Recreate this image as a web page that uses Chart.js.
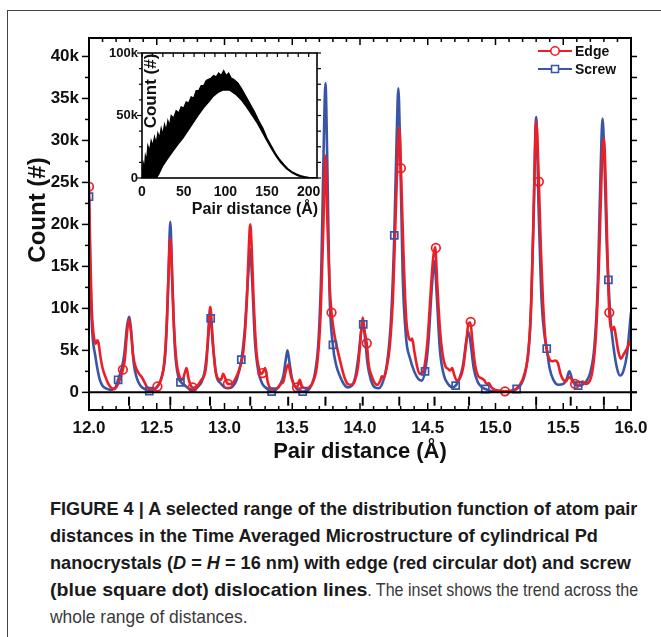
<!DOCTYPE html>
<html>
<head>
<meta charset="utf-8">
<script src="https://cdn.jsdelivr.net/npm/chart.js@4.4.1/dist/chart.umd.min.js"></script>
<style>
  body { margin: 0; background: #fff; width: 661px; height: 637px; overflow: hidden; position: relative; }
  #frame { position: absolute; left: 7px; top: 10px; width: 670px; height: 640px;
           border-top: 1.5px solid #444; border-left: 1.5px solid #444; }
  #main { position: absolute; left: 0; top: 0; }
  #inset { position: absolute; left: 100px; top: 40px; }
  .cap { position: absolute; left: 50px; white-space: nowrap; transform: scaleX(0.955); transform-origin: 0 0;
         font: bold 19px/27px 'Liberation Sans', Arial, sans-serif; color: #1a1a1a; }
  .cap .reg { display: inline-block; font-weight: normal; color: #3a3a3a; transform-origin: 0 0; }
</style>
</head>
<body>
<div id="frame"></div>
<canvas id="main" width="661" height="470"></canvas>
<canvas id="inset" width="230" height="185"></canvas>
<div class="cap" style="top:495px">FIGURE 4 | A selected range of the distribution function of atom pair</div>
<div class="cap" style="top:522px">distances in the Time Averaged Microstructure of cylindrical Pd</div>
<div class="cap" style="top:549px">nanocrystals (<i>D</i> = <i>H</i> = 16 nm) with edge (red circular dot) and screw</div>
<div class="cap" style="top:576px;transform:scaleX(1.03)">(blue square dot) dislocation lines<span class="reg" style="transform:scaleX(0.82)">. The inset shows the trend across the</span></div>
<div class="cap" style="top:603px"><span class="reg" style="transform:scaleX(0.96)">whole range of distances.</span></div>

<script>
// pair distance (Å) and count (thousands)
const edgeX = [12.000,12.010,12.020,12.030,12.040,12.050,12.060,12.070,12.085,12.100,12.120,12.140,12.160,12.180,12.200,12.220,12.250,12.265,12.280,12.295,12.310,12.325,12.345,12.370,12.390,12.410,12.430,12.450,12.480,12.505,12.530,12.555,12.575,12.590,12.600,12.610,12.625,12.645,12.670,12.690,12.705,12.720,12.735,12.755,12.770,12.800,12.830,12.850,12.865,12.880,12.895,12.910,12.930,12.955,12.975,12.990,13.005,13.025,13.050,13.080,13.110,13.140,13.165,13.180,13.190,13.200,13.215,13.235,13.255,13.275,13.290,13.300,13.320,13.345,13.370,13.395,13.415,13.435,13.450,13.470,13.490,13.515,13.535,13.555,13.570,13.595,13.625,13.655,13.685,13.710,13.730,13.745,13.760,13.775,13.790,13.810,13.835,13.860,13.885,13.910,13.935,13.960,13.985,14.005,14.020,14.035,14.050,14.065,14.085,14.110,14.130,14.150,14.160,14.175,14.195,14.220,14.245,14.265,14.280,14.290,14.302,14.320,14.340,14.360,14.375,14.385,14.400,14.420,14.440,14.460,14.480,14.500,14.520,14.540,14.555,14.570,14.590,14.610,14.630,14.650,14.665,14.680,14.695,14.715,14.735,14.760,14.785,14.800,14.815,14.830,14.850,14.870,14.895,14.915,14.935,14.950,14.970,15.000,15.040,15.070,15.110,15.150,15.180,15.210,15.240,15.265,15.285,15.300,15.320,15.335,15.350,15.370,15.390,15.405,15.420,15.440,15.460,15.480,15.500,15.520,15.540,15.555,15.575,15.590,15.610,15.625,15.645,15.665,15.690,15.715,15.740,15.765,15.785,15.800,15.815,15.830,15.840,15.860,15.875,15.890,15.905,15.925,15.945,15.970,16.000];
const edgeY = [24.5,16,10,7.5,6.2,5.8,6.2,5.9,4.2,2.9,1.9,1.1,0.6,0.45,0.6,1.2,2.7,4.0,7.0,8.7,7.2,4.5,3.0,2.2,1.8,1.2,0.6,0.35,0.4,0.7,1.5,3.5,8.5,15.5,18.3,15.5,8.5,3.8,1.8,1.5,2.2,2.9,1.6,0.7,0.55,0.8,1.5,2.0,3.2,7.0,10.2,7.0,3.0,1.6,1.5,2.2,1.7,1.0,1.0,1.6,2.8,5.0,11,17.5,20,17.5,11,5.0,2.8,2.2,2.6,2.9,1.2,0.4,0.35,0.6,1.0,1.3,2.4,3.3,2.0,0.8,0.6,1.5,0.8,0.5,0.6,1.3,3.5,9.5,20,28.2,20,13,9.5,7.0,5.0,3.3,1.8,1.0,0.9,1.3,3.0,6.5,8.9,7.2,5.8,3.2,2.0,1.1,0.9,1.4,1.9,1.7,2.8,5.5,12,22,29,31.5,26.7,17,9.0,6.5,6.2,6.4,5.0,3.2,2.2,2.3,3.5,6.5,11.5,16,17.3,13,7.5,4.5,3.1,2.8,2.6,2.9,2.1,1.4,1.6,2.8,6.0,8.2,8.3,6.0,3.2,2.0,1.7,1.5,1.0,1.1,0.6,0.3,0.2,0.12,0.2,0.4,0.9,2.0,4.5,11,24,32.3,25.1,17,11,6.0,4.3,3.8,3.7,3.8,3.5,2.2,1.5,1.3,1.8,1.7,1.2,1.0,1.3,1.2,1.3,1.0,1.2,2.5,6.5,16,27,30.3,24,14,9.5,7.4,7.8,6.5,5.0,4.0,4.5,5.2,6.3];

const screwX = [12.000,12.010,12.020,12.030,12.045,12.060,12.080,12.100,12.130,12.160,12.190,12.215,12.240,12.260,12.280,12.295,12.310,12.330,12.355,12.380,12.410,12.445,12.480,12.510,12.540,12.565,12.585,12.600,12.615,12.635,12.660,12.680,12.710,12.740,12.770,12.800,12.830,12.855,12.875,12.895,12.915,12.940,12.970,13.000,13.030,13.060,13.090,13.125,13.150,13.175,13.190,13.205,13.225,13.250,13.280,13.310,13.345,13.380,13.410,13.435,13.455,13.465,13.480,13.500,13.530,13.575,13.610,13.640,13.670,13.695,13.715,13.733,13.745,13.758,13.775,13.800,13.825,13.850,13.880,13.910,13.940,13.965,13.990,14.010,14.022,14.035,14.055,14.080,14.110,14.140,14.170,14.200,14.230,14.253,14.270,14.283,14.295,14.315,14.340,14.370,14.400,14.430,14.455,14.480,14.505,14.530,14.550,14.565,14.590,14.620,14.650,14.685,14.706,14.730,14.760,14.785,14.800,14.815,14.840,14.870,14.900,14.925,14.960,15.000,15.060,15.120,15.156,15.190,15.225,15.255,15.280,15.300,15.318,15.340,15.360,15.378,15.400,15.430,15.465,15.500,15.525,15.545,15.565,15.590,15.610,15.640,15.670,15.700,15.730,15.755,15.775,15.790,15.805,15.820,15.833,15.850,15.870,15.895,15.920,15.945,15.970,16.000];
const screwY = [23.3,14,8.5,6.0,4.5,3.0,1.5,0.8,0.45,0.3,0.4,1.5,2.8,4.5,7.8,9.0,7.5,3.5,1.6,0.8,0.4,0.15,0.3,0.8,2.0,5.0,13,20.3,13,5.0,1.8,1.2,0.8,0.4,0.3,0.6,1.2,2.6,5.5,9.3,5.5,2.0,1.1,0.6,0.5,0.7,1.5,3.9,7.5,14,17,13,6.0,2.5,1.0,0.5,0.1,0.3,0.9,2.0,4.2,5.0,3.5,1.5,0.5,0.1,0.2,0.8,2.5,6.5,15,30,36.8,28,12,5.6,3.2,2.0,1.0,0.6,0.8,1.8,4.5,7.5,8.1,6.8,3.5,1.5,0.6,0.5,1.3,3.5,9.0,18.7,30,36.2,30,14,6.5,4.0,2.5,1.6,1.4,2.5,6.0,12.5,15.6,12,5.0,2.0,1.0,0.6,0.8,1.5,3.2,6.2,7.2,6.0,2.8,1.2,0.6,0.4,0.2,0.1,0.08,0.15,0.4,1.0,2.8,7.5,20,32.8,22,11,7.0,5.2,2.8,1.4,0.9,1.0,1.6,2.5,1.6,0.9,0.8,0.9,1.3,2.4,5.5,13,26,32.6,27,18,13.4,8.5,5.5,3.0,2.0,2.6,4.5,9.5];

const edgeMarkX = [12.0,12.25,12.505,12.765,13.025,13.28,13.535,13.79,14.05,14.302,14.56,14.817,15.07,15.32,15.587,15.84];
const edgeMarkY = [24.5,2.7,0.7,0.6,1.0,2.3,0.6,9.5,5.85,26.7,17.2,8.4,0.12,25.1,1.0,9.5];
const screwMarkX = [12.0,12.215,12.445,12.675,12.898,13.124,13.348,13.577,13.80,14.024,14.253,14.48,14.706,14.925,15.156,15.378,15.61,15.833];
const screwMarkY = [23.3,1.5,0.15,1.2,8.8,3.9,0.1,0.1,5.65,8.1,18.7,2.5,0.8,0.4,0.4,5.2,0.8,13.4];

// short vertical marks under the zero line
const shellX = [12.295,12.6,12.893,13.19,13.47,13.745,14.02,14.29,14.55,14.805,15.30,15.555,15.80];
const shellY = -1.05;

// inset: envelope of the full-range distribution (Å, thousands)
const insetUpX = [0,1.5,3,4,5.5,7,9,11,13,15,17,19,21,23,25,27,29,31,33,35,38,41,44,47,50,53,56,59,62,65,68,71,74,77,80,83,86,89,92,95,98,101,104,107,110,115,120,125,130,135,140,145,150,155,160,165,170,175,180,185,190,195,200,205,210];
const insetUp = [0,12,8,18,14,26,22,30,26,33,28,36,32,40,35,43,38,46,42,50,48,54,52,57,56,61,60,65,64,70,70,74,74,78,79,80,82,81,84,82,86,82,84,80,79,76,71,65,59,53,46,40,32,26,20,15,11,7.5,5,3.3,2,1.1,0.6,0.3,0.15];
const insetLowX = [0,17,20,25,30,37,43,49,55,61,67,73.5,80,85.5,91,97.5,105,113.5,120,125.5,131,137.5,143,149.5,155,161.5,167,173.5,180,185.5,190,195,200,205,210];
const insetLow = [0,0,3,10,15,21.5,27,32,38,44,50,56,61,65.5,68.5,70.5,70.5,66.5,62,57,51.5,45,38.5,30.5,24,17,12,7.5,4.3,2.3,1.2,0.5,0.25,0.1,0.05];

const FONT = "'Liberation Sans', Arial, sans-serif";
const RED = '#ec1f26';
const BLUE = '#3b55a5';

const pts = (xs, ys) => xs.map((x, i) => ({ x, y: ys[i] }));

function seg(ctx, x1, y1, x2, y2) {
  ctx.beginPath(); ctx.moveTo(x1, y1); ctx.lineTo(x2, y2); ctx.stroke();
}

const mainDecor = {
  id: 'mainDecor',
  afterDraw(chart) {
    const { ctx, chartArea: a, scales: { x, y } } = chart;
    ctx.save();
    ctx.strokeStyle = '#000';
    ctx.lineWidth = 2;
    ctx.strokeRect(a.left, a.top, a.right - a.left, a.bottom - a.top);
    const y0 = y.getPixelForValue(0);
    seg(ctx, a.left, y0, a.right + 6, y0);
    ctx.lineWidth = 1.5;
    for (let i = 0; i <= 40; i++) {
      const px = x.getPixelForValue(12 + i / 10);
      const len = i % 5 === 0 ? 7 : 4;
      seg(ctx, px, a.top, px, a.top + len);
      seg(ctx, px, a.bottom, px, a.bottom - len);
    }
    for (let i = 0; i <= 16; i++) {
      const py = y.getPixelForValue(i * 2.5);
      const len = i % 2 === 0 ? 7 : 4;
      seg(ctx, a.left - len, py, a.left, py);
      seg(ctx, a.right, py, a.right + 6, py);
    }
    // axis titles
    ctx.fillStyle = '#111';
    ctx.textAlign = 'center';
    ctx.textBaseline = 'middle';
    ctx.font = 'bold 22px ' + FONT;
    ctx.fillText('Pair distance (Å)', (a.left + a.right) / 2, 452);
    ctx.save();
    ctx.translate(38, 210);
    ctx.rotate(-Math.PI / 2);
    ctx.font = 'bold 24px ' + FONT;
    ctx.fillText('Count (#)', 0, 0);
    ctx.restore();
    // legend
    const items = [['Edge', RED, 'circle', 51], ['Screw', BLUE, 'rect', 69]];
    ctx.font = 'bold 14px ' + FONT;
    ctx.textAlign = 'left';
    items.forEach(([label, color, shape, ly]) => {
      ctx.strokeStyle = color;
      ctx.lineWidth = 2;
      seg(ctx, 538, ly, 572, ly);
      ctx.lineWidth = 1.6;
      ctx.fillStyle = '#fff';
      ctx.beginPath();
      if (shape === 'circle') ctx.arc(555, ly, 4.2, 0, Math.PI * 2);
      else ctx.rect(551.5, ly - 3.5, 7, 7);
      ctx.fill(); ctx.stroke();
      ctx.fillStyle = '#111';
      ctx.fillText(label, 575, ly + 1);
    });
    ctx.restore();
  }
};

new Chart(document.getElementById('main'), {
  type: 'scatter',
  data: {
    datasets: [
      { label: 'Edge marks', data: pts(edgeMarkX, edgeMarkY), pointStyle: 'circle', pointRadius: 4.3,
        borderColor: RED, backgroundColor: 'rgba(0,0,0,0)', borderWidth: 1.7 },
      { label: 'Screw marks', data: pts(screwMarkX, screwMarkY), pointStyle: 'rect', pointRadius: 5,
        borderColor: BLUE, backgroundColor: 'rgba(0,0,0,0)', borderWidth: 1.7 },
      { label: 'Edge', data: pts(edgeX, edgeY), showLine: true, pointRadius: 0,
        borderColor: RED, borderWidth: 2.6, cubicInterpolationMode: 'monotone' },
      { label: 'Screw', data: pts(screwX, screwY), showLine: true, pointRadius: 0,
        borderColor: BLUE, borderWidth: 2.6, cubicInterpolationMode: 'monotone' },
      { label: 'Shells', data: shellX.map(x => ({ x, y: shellY })), pointStyle: 'line', rotation: 90,
        pointRadius: 4.5, borderColor: '#000', borderWidth: 2 }
    ]
  },
  options: {
    responsive: false,
    animation: false,
    events: [],
    layout: { padding: { left: 0, top: 38, right: 30, bottom: 0 } },
    plugins: { legend: { display: false }, tooltip: { enabled: false } },
    scales: {
      x: {
        type: 'linear', min: 12, max: 16,
        grid: { display: false, drawTicks: false }, border: { display: false },
        ticks: { stepSize: 0.5, padding: 8, color: '#111', font: { family: FONT, size: 17, weight: 'bold' },
                 callback: v => v.toFixed(1) },
        afterFit: s => { s.height = 60; }
      },
      y: {
        min: -2.1, max: 42.2,
        grid: { display: false, drawTicks: false }, border: { display: false },
        ticks: { stepSize: 5, includeBounds: false, padding: 10, color: '#111',
                 font: { family: FONT, size: 17, weight: 'bold' },
                 callback: v => (v < 0 || v > 40) ? '' : (v === 0 ? '0' : v + 'k') },
        afterFit: s => { s.width = 89; }
      }
    }
  },
  plugins: [mainDecor]
});

const insetDecor = {
  id: 'insetDecor',
  beforeDraw(chart) {
    const { ctx, chartArea: a } = chart;
    ctx.save();
    ctx.fillStyle = '#fff';
    ctx.fillRect(a.left, a.top, a.right - a.left, a.bottom - a.top);
    ctx.restore();
  },
  afterDraw(chart) {
    const { ctx, chartArea: a, scales: { x, y } } = chart;
    ctx.save();
    ctx.strokeStyle = '#000';
    ctx.lineWidth = 1.6;
    ctx.strokeRect(a.left, a.top, a.right - a.left, a.bottom - a.top);
    ctx.lineWidth = 1.2;
    for (let v = 0; v <= 200; v += 12.5) {
      const px = x.getPixelForValue(v);
      seg(ctx, px, a.top, px, a.top + 4);
    }
    for (let v = 0; v <= 100; v += 12.5) {
      const py = y.getPixelForValue(v);
      seg(ctx, a.right, py, a.right + 4, py);
      const len = v % 50 === 0 ? 5 : 3;
      seg(ctx, a.left - len, py, a.left, py);
    }
    ctx.fillStyle = '#111';
    ctx.textAlign = 'center';
    ctx.textBaseline = 'middle';
    ctx.font = 'bold 16px ' + FONT;
    ctx.fillText('Pair distance (Å)', 155, 170);
    ctx.save();
    ctx.translate(51, 51);
    ctx.rotate(-Math.PI / 2);
    ctx.font = 'bold 17px ' + FONT;
    ctx.fillText('Count (#)', 0, 0);
    ctx.restore();
    ctx.restore();
  }
};

new Chart(document.getElementById('inset'), {
  type: 'scatter',
  data: {
    datasets: [
      { label: 'low', data: pts(insetLowX, insetLow), showLine: true, pointRadius: 0, order: 1,
        borderColor: '#000', borderWidth: 1.5, backgroundColor: '#fff', fill: 'origin' },
      { label: 'up', data: pts(insetUpX, insetUp), showLine: true, pointRadius: 0, order: 2,
        borderColor: '#000', borderWidth: 1.2, backgroundColor: '#000', fill: 'origin' }
    ]
  },
  options: {
    responsive: false,
    animation: false,
    events: [],
    layout: { padding: { left: 0, top: 13, right: 13, bottom: 0 } },
    plugins: { legend: { display: false }, tooltip: { enabled: false } },
    scales: {
      x: {
        type: 'linear', min: 0, max: 210,
        grid: { display: false, drawTicks: false }, border: { display: false },
        ticks: { stepSize: 50, includeBounds: false, padding: 6, color: '#111',
                 font: { family: FONT, size: 14, weight: 'bold' } },
        afterFit: s => { s.height = 47; }
      },
      y: {
        min: 0, max: 100,
        grid: { display: false, drawTicks: false }, border: { display: false },
        ticks: { stepSize: 50, padding: 4, color: '#111', font: { family: FONT, size: 13, weight: 'bold' },
                 callback: v => v === 0 ? '0' : v + 'k' },
        afterFit: s => { s.width = 42; }
      }
    }
  },
  plugins: [insetDecor]
});
</script>
</body>
</html>
